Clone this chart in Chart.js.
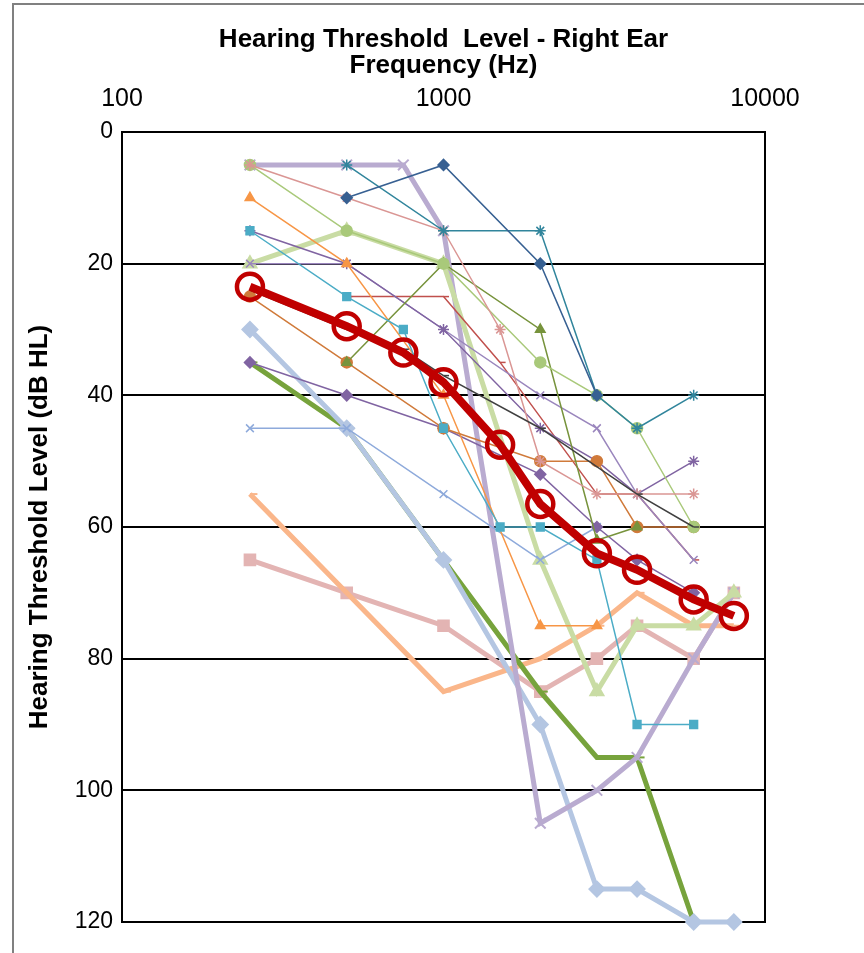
<!DOCTYPE html>
<html>
<head>
<meta charset="utf-8">
<script src="https://cdn.jsdelivr.net/npm/chart.js@4.4.0/dist/chart.umd.min.js"></script>
<style>
  html, body { margin: 0; padding: 0; background: #fff; }
  #wrap { position: relative; width: 864px; height: 953px; overflow: hidden; }
  #frame { position: absolute; left: 12px; top: 3px; width: 900px; height: 1000px; border: 2px solid #808080; }
  canvas { position: absolute; left: 0; top: 0; }
</style>
</head>
<body>
<div id="wrap">
  <div id="frame"></div>
  <canvas id="hearingChart" width="864" height="953"></canvas>
</div>
<script>
// ===== Hearing threshold chart (right ear) =====

// Test frequencies (Hz) and tick labels
const freqs = [250, 500, 750, 1000, 1500, 2000, 3000, 4000, 6000, 8000];
const freqTicks = [100, 1000, 10000];
const levelTicks = [0, 20, 40, 60, 80, 100, 120];

// Thresholds in dB HL per frequency (null = not measured)
const meanHL      = [23.5, 29.5, 33.5, 38, 47.5, 56.5, 64, 66.5, 71, 73.5];
const lavenderHL  = [5, 5, 5, 15, null, 105, 100, 95, 80, 70];
const paleBlueHL  = [30, 45, null, 65, null, 90, 115, 115, 120, 120];
const greenHL     = [35, 45, null, 65, null, 85, 95, 95, 120, null];
const peachHL     = [55, null, null, 85, null, 80, 75, 70, 75, 75];
const pinkHL      = [65, 70, null, 75, null, 85, 80, 75, 80, 70];
const paleGreenHL = [20, 15, null, 20, null, 65, 85, 75, 75, 70];
const tealSqHL    = [15, 25, 30, 45, 60, 60, 65, 90, 90, null];
const tealStarHL  = [null, 5, null, 15, null, 15, 40, 45, 40, null];
const navyHL      = [null, 10, null, 5, null, 20, 40, null, null, null];
const roseHL      = [5, 10, null, 15, 30, 50, 55, 55, 55, null];
const limeHL      = [5, 15, null, 20, null, 35, 40, 45, 60, null];
const oliveHL     = [null, 35, null, 20, null, 30, 62, 60, null, null];
const brownHL     = [25, 35, null, 45, null, 50, 50, 60, 60, null];
const orangeHL    = [10, 20, null, 40, null, 75, 75, null, null, null];
const purpleStarHL = [15, 20, null, 30, null, 45, 50, 55, 50, null];
const purpleXHL   = [20, 20, null, 30, null, 40, 45, 55, 65, null];
const purpleDiaHL = [35, 40, null, 45, null, 52, 60, 65, 70, null];
const skyXHL      = [45, 45, null, 55, null, 65, 60, null, null, null];
const maroonHL    = [null, 25, null, 25, 35, null, 55, 55, 65, null];
const greyHL      = [24, 30, 33, 37, null, 45, null, 55, 60, null];

const FONT = "'Liberation Sans Narrow', 'Arial Narrow', 'Liberation Sans', Arial, sans-serif";

// turn a threshold array into {x, y} points
function pts(arr) {
  return freqs.map((f, i) => ({ x: f, y: arr[i] })).filter(p => p.y !== null);
}

function thin(arr, color, style) {
  return {
    data: pts(arr), borderColor: color, backgroundColor: color,
    borderWidth: 1.5, pointStyle: style, pointRadius: 5.5,
    pointBorderWidth: 1.5, pointBorderColor: color, pointBackgroundColor: color,
    clip: false
  };
}

function thick(arr, color, style) {
  return {
    data: pts(arr), borderColor: color, backgroundColor: color,
    borderWidth: 5, pointStyle: style, pointRadius: 7.5,
    pointBorderWidth: 2, pointBorderColor: color, pointBackgroundColor: color,
    clip: false
  };
}

// black frame round the plot area
const plotFrame = {
  id: 'plotFrame',
  beforeDatasetsDraw(chart) {
    const a = chart.chartArea, ctx = chart.ctx;
    ctx.save();
    ctx.strokeStyle = '#000';
    ctx.lineWidth = 2;
    ctx.strokeRect(a.left, a.top, a.right - a.left, a.bottom - a.top);
    ctx.restore();
  }
};

const datasets = [
  {
    data: pts(meanHL), borderColor: '#c00000', borderWidth: 8,
    pointStyle: 'circle', pointRadius: 13, pointBorderWidth: 4.5,
    pointBorderColor: '#c00000', pointBackgroundColor: 'rgba(0,0,0,0)', clip: false
  },
  thin(greyHL, '#404040', 'dash'),
  thin(navyHL, '#376092', 'rectRot'),
  thin(tealStarHL, '#31859c', 'star'),
  thin(tealSqHL, '#4bacc6', 'rect'),
  thin(roseHL, '#da9694', 'star'),
  thin(limeHL, '#a9c97a', 'circle'),
  thin(oliveHL, '#77933c', 'triangle'),
  thin(brownHL, '#d07a3a', 'circle'),
  thin(orangeHL, '#f79646', 'triangle'),
  thin(purpleStarHL, '#8064a2', 'star'),
  thin(purpleXHL, '#9a86bd', 'crossRot'),
  thin(purpleDiaHL, '#8064a2', 'rectRot'),
  thin(skyXHL, '#8eaadb', 'crossRot'),
  thin(maroonHL, '#c0504d', 'dash'),
  thick(paleGreenHL, '#c9dca4', 'triangle'),
  thick(lavenderHL, '#b9abd0', 'crossRot'),
  thick(paleBlueHL, '#b4c6e2', 'rectRot'),
  thick(greenHL, '#77a33c', 'dash'),
  thick(peachHL, '#fab68a', 'dash'),
  thick(pinkHL, '#e3b4b3', 'rect')
];

const ctx = document.getElementById('hearingChart').getContext('2d');

new Chart(ctx, {
  type: 'line',
  data: { datasets: datasets },
  plugins: [plotFrame],
  options: {
    responsive: false,
    animation: false,
    layout: { padding: { left: 0, right: 99, bottom: 31, top: 0 } },
    plugins: {
      legend: { display: false },
      tooltip: { enabled: false }
    },
    scales: {
      x: {
        type: 'logarithmic',
        position: 'top',
        min: 100,
        max: 10000,
        afterBuildTicks: s => { s.ticks = freqTicks.map(v => ({ value: v })); },
        afterFit: s => { s.height = 132; },
        ticks: {
          color: '#000',
          padding: 18,
          maxRotation: 0,
          font: { family: FONT, size: 25 },
          callback: v => String(v)
        },
        grid: { display: false, drawTicks: false },
        border: { display: false },
        title: {
          display: true,
          text: ['Hearing Threshold  Level - Right Ear', 'Frequency (Hz)'],
          color: '#000',
          font: { family: FONT, size: 26, weight: 'bold', lineHeight: 1 },
          padding: { top: 27, bottom: 0 }
        }
      },
      y: {
        reverse: true,
        min: 0,
        max: 120,
        afterBuildTicks: s => { s.ticks = levelTicks.map(v => ({ value: v })); },
        afterFit: s => { s.width = 122; },
        ticks: {
          color: '#000',
          padding: 9,
          font: { family: FONT, size: 23 }
        },
        grid: { color: '#000', lineWidth: 2, drawTicks: false },
        border: { display: false },
        title: {
          display: true,
          text: 'Hearing Threshold Level (dB HL)',
          color: '#000',
          font: { family: FONT, size: 26, weight: 'bold', lineHeight: 1 },
          padding: { top: 27, bottom: 0 }
        }
      }
    }
  }
});
</script>
</body>
</html>
